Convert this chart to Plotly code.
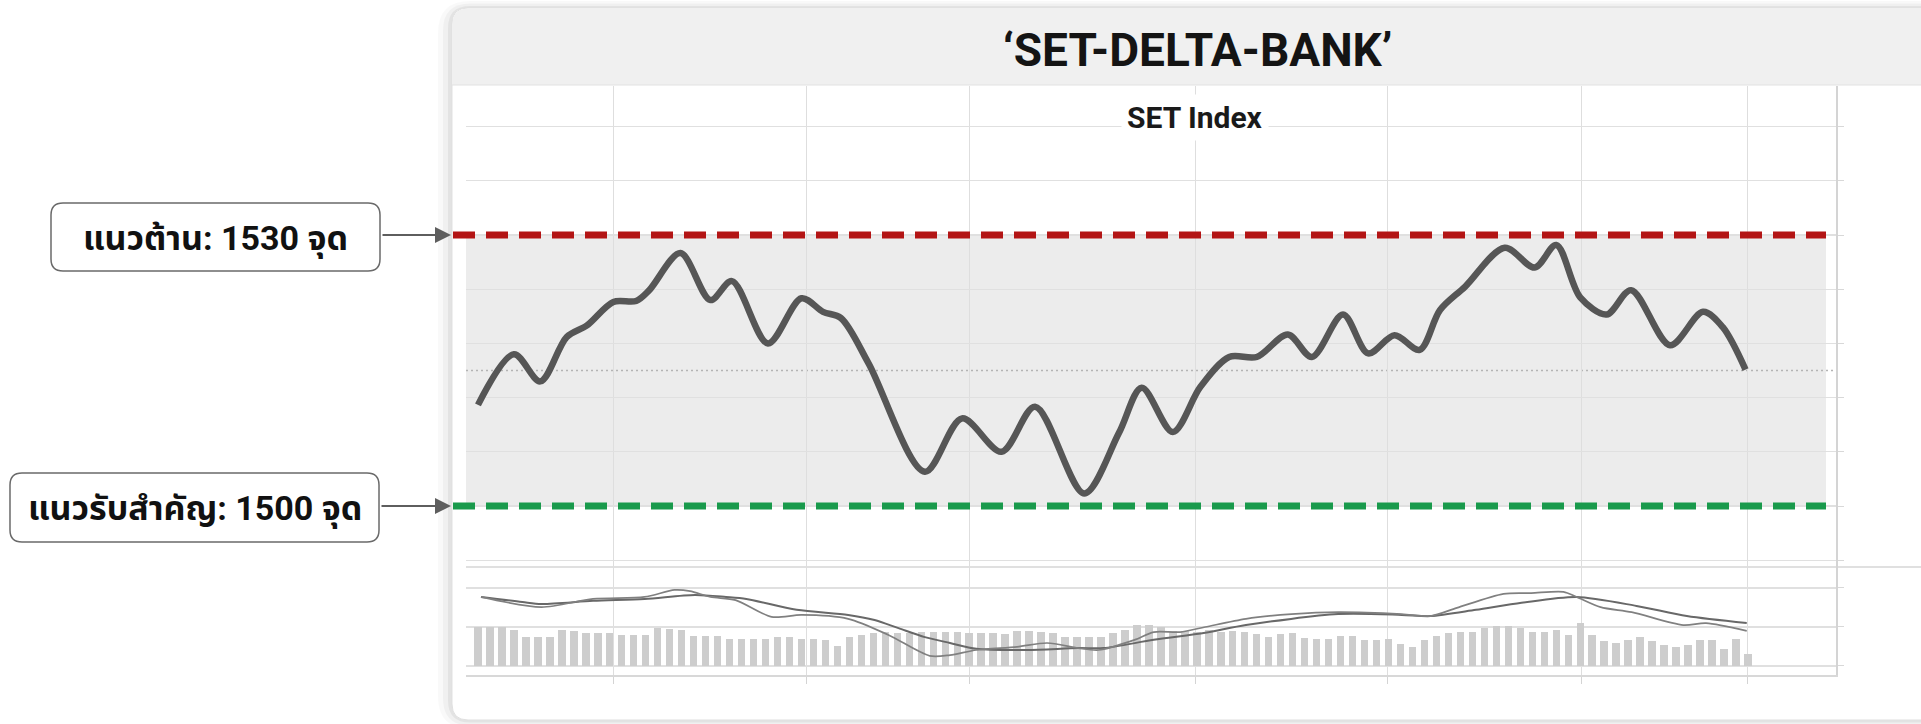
import plotly.graph_objects as go

# ---------------- data ----------------
title_text = "‘SET-DELTA-BANK’"
subtitle_text = "SET Index"
resistance_label = "แนวต้าน: 1530 จุด"
support_label = "แนวรับสำคัญ: 1500 จุด"
resistance_level = 1530
support_level = 1500
mid_level = 1515

# main SET index line (trading-day index, index points)
idx_main = [0, 3, 5.2, 7.4, 9.1, 11.3, 13.2, 14.3, 16.9, 19.4, 21.2, 24.2, 27, 28.8, 30.3,
            32.6, 37.3, 40.4, 43.7, 46.5, 50.6, 53.5, 55.4, 58, 60.3, 62.7, 65, 67.6, 69.6,
            72.2, 74.3, 76.5, 78.6, 80.3, 82.4, 85.7, 88.2, 90, 92, 94.2, 96.25, 99.5,
            102.25, 103.9, 105.8]
set_index = [1511.2, 1516.8, 1513.8, 1518.7, 1520.0, 1522.6, 1522.7, 1523.9, 1528.0, 1522.8,
             1524.9, 1518.0, 1523.0, 1521.5, 1520.8, 1515.8, 1503.8, 1509.7, 1506.0, 1511.0,
             1501.4, 1508.1, 1513.1, 1508.2, 1513.2, 1516.5, 1516.5, 1519.0, 1516.5, 1521.2,
             1516.9, 1518.9, 1517.3, 1521.7, 1524.3, 1528.6, 1526.4, 1528.9, 1523.1, 1521.2,
             1523.9, 1517.8, 1521.5, 1519.8, 1515.1]

# volume bars (one per trading day, arbitrary units)
volume = [10.1, 10.1, 10.1, 9.2, 7.4, 7.4, 7.4, 9.2, 9.1, 8.4, 8.4, 8.4, 7.9, 7.9, 7.9,
          9.7, 9.4, 9.2, 7.7, 7.7, 7.7, 6.8, 6.8, 6.8, 6.8, 7.5, 7.5, 6.8, 6.8, 6.7,
          5.1, 7.5, 7.9, 8.4, 8.8, 8.5, 8.4, 8.8, 8.8, 8.8, 8.8, 8.5, 8.5, 8.4, 8.2,
          9.1, 9.1, 8.8, 8.4, 7.5, 7.4, 7.4, 7.5, 8.5, 9.2, 10.5, 10.5, 9.9, 9.1, 9.1,
          8.8, 9.2, 8.8, 9.1, 8.8, 8.1, 7.5, 8.1, 8.5, 7.3, 6.8, 6.8, 7.7, 7.7, 6.7,
          6.7, 6.8, 5.6, 4.9, 6.7, 7.7, 8.5, 8.7, 8.7, 9.8, 10.3, 10.3, 9.7, 8.6, 8.6,
          9.2, 7.9, 11.1, 7.9, 6.4, 5.8, 6.7, 7.4, 6.4, 5.4, 4.9, 5.4, 6.7, 6.7, 4.4,
          6.8, 3.0]
days = list(range(len(volume)))

# slow moving-average line in the lower panel
idx_ma_slow = [0.25, 3.7, 5.3, 9.6, 13.9, 18.1, 20.7, 22.4, 26.6, 30.9, 33.1, 35.1, 37.3,
               39.4, 41.6, 45.8, 50.1, 52.2, 56.4, 60.7, 64.1, 71.8, 77.1, 79.5, 83.3,
               87.1, 91.7, 96.7, 100.9, 105.9]
ma_slow = [17.7, 16.4, 15.9, 16.7, 17.2, 18.2, 17.7, 17.2, 14.4, 13.1, 11.8, 9.7, 7.4,
           5.9, 4.4, 4.1, 4.6, 4.6, 6.7, 8.5, 10.5, 13.3, 13.1, 12.8, 14.4, 16.2, 17.7,
           15.4, 12.8, 11.0]

# fast moving-average line in the lower panel
idx_ma_fast = [0.25, 5.3, 9.6, 13.9, 16.4, 17.7, 19.4, 21.5, 24.5, 27.0, 30.9, 34.3, 37.7,
               39.4, 41.6, 45.0, 47.5, 50.1, 51.8, 54.8, 56.4, 58.6, 60.7, 64.1, 67.9,
               71.8, 77.1, 79.5, 81.7, 85.6, 87.9, 90.6, 91.7, 93.7, 96.3, 100.6, 102.5,
               105.9]
ma_fast = [17.7, 15.1, 17.2, 17.7, 19.5, 19.2, 17.7, 16.9, 12.6, 13.1, 12.1, 7.9, 2.6,
           2.8, 4.1, 4.9, 5.9, 4.6, 4.1, 6.7, 8.7, 8.7, 10.0, 12.1, 13.3, 13.8, 13.3,
           12.8, 14.9, 18.5, 18.7, 19.0, 17.7, 15.1, 13.8, 10.5, 11.0, 9.0]

# vertical grid positions (period boundaries, trading-day index)
period_ticks = [11.35, 27.4, 41.0, 59.85, 75.9, 92.1, 106.0]

# ---------------- layout geometry ----------------
W, H = 1921, 724
ML, MR, MT, MB = 466, 85, 86, 49
PW, PH = W - ML - MR, H - MT - MB


def fx(px):
    return (px - ML) / PW


def fy(py):
    return (H - MB - py) / PH


def P(x, y):
    return f"{fx(x):.5f},{fy(y):.5f}"


def rrect(x0, y0, x1, y1, r):
    return (f"M {P(x0 + r, y0)} L {P(x1 - r, y0)} Q {P(x1, y0)} {P(x1, y0 + r)} "
            f"L {P(x1, y1 - r)} Q {P(x1, y1)} {P(x1 - r, y1)} L {P(x0 + r, y1)} "
            f"Q {P(x0, y1)} {P(x0, y1 - r)} L {P(x0, y0 + r)} Q {P(x0, y0)} {P(x0 + r, y0)} Z")


def top_rrect(x0, y0, x1, y1, r):
    return (f"M {P(x0 + r, y0)} L {P(x1, y0)} L {P(x1, y1)} L {P(x0, y1)} "
            f"L {P(x0, y0 + r)} Q {P(x0, y0)} {P(x0 + r, y0)} Z")


split = fy(567)
FONT = "Roboto, 'Noto Sans Thai', 'Noto Sans', 'DejaVu Sans', sans-serif"

fig = go.Figure()

fig.add_trace(go.Scatter(
    x=idx_main, y=set_index, mode="lines", xaxis="x", yaxis="y",
    line=dict(color="#565656", width=6.5, shape="spline", smoothing=0.9),
    hoverinfo="skip"))

fig.add_trace(go.Bar(
    x=days, y=volume, xaxis="x", yaxis="y2", width=0.62,
    marker=dict(color="#cdcdcd", line=dict(width=0)), hoverinfo="skip"))

fig.add_trace(go.Scatter(
    x=idx_ma_slow, y=ma_slow, mode="lines", xaxis="x", yaxis="y2",
    line=dict(color="#686868", width=2, shape="spline", smoothing=0.8), hoverinfo="skip"))

fig.add_trace(go.Scatter(
    x=idx_ma_fast, y=ma_fast, mode="lines", xaxis="x", yaxis="y2",
    line=dict(color="#808080", width=1.7, shape="spline", smoothing=0.8), hoverinfo="skip"))

shapes = []
# card shadow + card
for i, a in enumerate([0.025, 0.035, 0.05]):
    g = 14 - i * 5
    shapes.append(dict(type="path", xref="paper", yref="paper", layer="below",
                       path=rrect(452 - g, 8 - g * 0.5, 1990, 720 + g * 0.6, 18 + g),
                       fillcolor=f"rgba(0,0,0,{a})", line=dict(width=0)))
shapes.append(dict(type="path", xref="paper", yref="paper", layer="below",
                   path=rrect(452, 8, 1990, 720, 16), fillcolor="#ffffff",
                   line=dict(color="#e0e0e0", width=1)))
# header band
shapes.append(dict(type="path", xref="paper", yref="paper", layer="below",
                   path=top_rrect(452.5, 8.5, 1990, 85, 16), fillcolor="#f0f0f0",
                   line=dict(width=0)))
shapes.append(dict(type="line", xref="paper", yref="paper", layer="below",
                   x0=fx(452), x1=fx(1990), y0=fy(85), y1=fy(85),
                   line=dict(color="#e2e2e2", width=1)))
# range band
shapes.append(dict(type="rect", xref="paper", yref="y", layer="below",
                   x0=0, x1=fx(1826), y0=support_level, y1=resistance_level,
                   fillcolor="#ececec", line=dict(width=0)))
# separator between panels
shapes.append(dict(type="line", xref="paper", yref="paper", layer="below",
                   x0=0, x1=fx(1990), y0=split, y1=split,
                   line=dict(color="#d6d6d6", width=1.5)))
# midline
shapes.append(dict(type="line", xref="paper", yref="y", layer="below",
                   x0=0, x1=1, y0=mid_level, y1=mid_level,
                   line=dict(color="#b4b4b4", width=1.5, dash="2px,3px")))
# resistance / support dashed lines
shapes.append(dict(type="line", xref="paper", yref="y", layer="above",
                   x0=fx(453), x1=fx(1826), y0=resistance_level, y1=resistance_level,
                   line=dict(color="#b31515", width=7, dash="22px,11px")))
shapes.append(dict(type="line", xref="paper", yref="y", layer="above",
                   x0=fx(453), x1=fx(1826), y0=support_level, y1=support_level,
                   line=dict(color="#199a4c", width=7, dash="22px,11px")))
# label boxes
shapes.append(dict(type="path", xref="paper", yref="paper", layer="above",
                   path=rrect(51, 203, 380, 271, 12), fillcolor="#ffffff",
                   line=dict(color="#6a6a6a", width=1.5)))
shapes.append(dict(type="path", xref="paper", yref="paper", layer="above",
                   path=rrect(10, 473, 379, 542, 12), fillcolor="#ffffff",
                   line=dict(color="#6a6a6a", width=1.5)))

C = dict(xanchor="center", yanchor="middle")
annotations = [
    dict(xref="paper", yref="paper", x=fx(1197), y=fy(50), text=title_text, showarrow=False,
         font=dict(family=FONT, size=46, color="#141414", weight=700), **C),
    dict(xref="paper", yref="paper", x=fx(1195), y=fy(117), text=subtitle_text, showarrow=False,
         font=dict(family=FONT, size=30, color="#1a1a1a", weight=700),
         bgcolor="#ffffff", borderpad=5, **C),
    dict(xref="paper", yref="paper", x=fx(215), y=fy(238), text=resistance_label, showarrow=False,
         font=dict(family=FONT, size=34, color="#111111", weight=700), **C),
    dict(xref="paper", yref="paper", x=fx(195), y=fy(508), text=support_label, showarrow=False,
         font=dict(family=FONT, size=34, color="#111111", weight=700), **C),
    dict(xref="paper", yref="y", x=fx(451), y=resistance_level, text="", showarrow=True,
         ax=-70, ay=0, arrowhead=2, arrowsize=1.6, arrowwidth=2, arrowcolor="#5e5e5e"),
    dict(xref="paper", yref="y", x=fx(451), y=support_level, text="", showarrow=True,
         ax=-71, ay=0, arrowhead=2, arrowsize=1.6, arrowwidth=2, arrowcolor="#5e5e5e"),
]

fig.update_layout(
    width=W, height=H, margin=dict(l=ML, r=MR, t=MT, b=MB),
    paper_bgcolor="#ffffff", plot_bgcolor="rgba(0,0,0,0)",
    showlegend=False, hovermode=False, bargap=0,
    xaxis=dict(domain=[0, 1], anchor="y2", range=[-1.0, 113.35],
               tickvals=period_ticks, ticktext=[""] * len(period_ticks),
               showgrid=True, gridcolor="#dedede", gridwidth=1,
               ticks="outside", ticklen=7, tickcolor="#d4d4d4",
               showline=True, linecolor="#d8d8d8", linewidth=2, zeroline=False),
    yaxis=dict(domain=[split, 1], anchor="x", side="right",
               range=[1493.25, 1546.5], tick0=1494, dtick=6,
               showticklabels=False, showgrid=True, gridcolor="#e0e0e0", gridwidth=1.2,
               ticks="outside", ticklen=6, tickcolor="#d8d8d8",
               showline=True, linecolor="#d4d4d4", linewidth=1.5, zeroline=False),
    yaxis2=dict(domain=[0, split], anchor="x", side="right",
                range=[-2.31, 25.38], tick0=0, dtick=10,
                showticklabels=False, showgrid=True, gridcolor="#e0e0e0", gridwidth=1.2,
                ticks="outside", ticklen=6, tickcolor="#d8d8d8",
                showline=True, linecolor="#d4d4d4", linewidth=1.5, zeroline=False),
    shapes=shapes, annotations=annotations,
)

fig.write_html("out.html", config={"displayModeBar": False, "staticPlot": True},
               post_script="document.body.style.margin='0';")
